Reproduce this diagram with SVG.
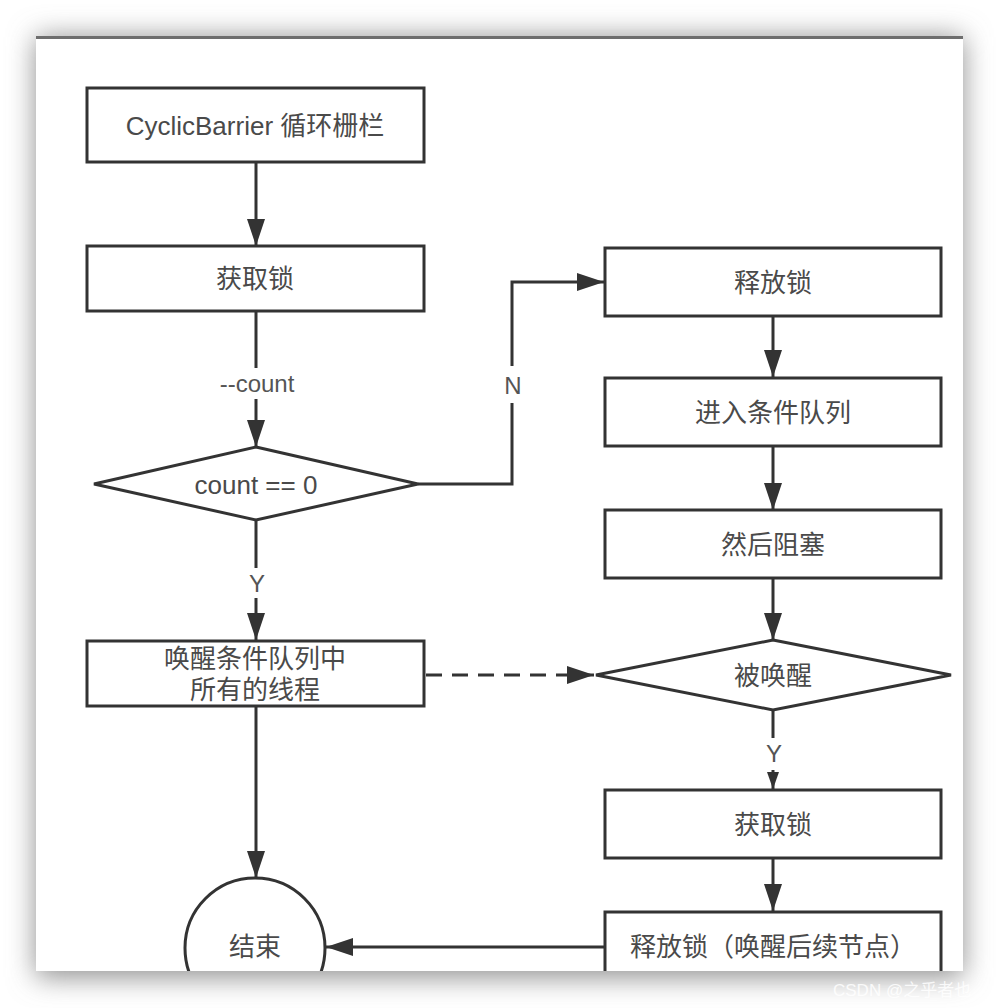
<svg xmlns="http://www.w3.org/2000/svg" width="1000" height="1008" viewBox="0 0 1000 1008">
<defs>
<style>
.box{fill:#fff;stroke:#333;stroke-width:3}
.ln{fill:none;stroke:#333;stroke-width:3}
.dash{fill:none;stroke:#333;stroke-width:3;stroke-dasharray:16 10}
.t{font-family:"Liberation Sans","Noto Sans CJK SC",sans-serif;font-size:26px;fill:#4a4a4a;text-anchor:middle;dominant-baseline:central}
.lbl{font-family:"Liberation Sans","Noto Sans CJK SC",sans-serif;font-size:24px;fill:#555;text-anchor:middle;dominant-baseline:central}
</style>
<marker id="ah" viewBox="0 0 27 18" refX="27" refY="9" markerWidth="27" markerHeight="18" markerUnits="userSpaceOnUse" orient="auto">
<path d="M0,0 L27,9 L0,18 z" fill="#333"/>
</marker>
<marker id="ahs" viewBox="0 0 17 12" refX="17" refY="6" markerWidth="17" markerHeight="12" markerUnits="userSpaceOnUse" orient="auto">
<path d="M0,0 L17,6 L0,12 z" fill="#333"/>
</marker>
<filter id="sh" x="-20%" y="-20%" width="140%" height="140%">
<feGaussianBlur stdDeviation="14"/>
</filter>
<clipPath id="card"><rect x="36" y="37" width="927" height="934"/></clipPath>
</defs>
<rect width="1000" height="1008" fill="#fff"/>
<rect x="36" y="37" width="927" height="940" fill="#8e8e8e" filter="url(#sh)"/>
<rect x="36" y="37" width="927" height="934" fill="#fff"/>
<line x1="36" y1="37.5" x2="963" y2="37.5" stroke="#6e6e6e" stroke-width="3"/>
<g clip-path="url(#card)">
<g id="connectors">
<line class="ln" x1="256" y1="162" x2="256" y2="246" marker-end="url(#ah)"/>
<line class="ln" x1="256" y1="311" x2="256" y2="368"/>
<line class="ln" x1="256" y1="399" x2="256" y2="447" marker-end="url(#ah)"/>
<text class="lbl" x="257" y="383" font-size="27">--count</text>
<polyline class="ln" points="418,484 512,484 512,403"/>
<polyline class="ln" points="512,366 512,282 604,282" marker-end="url(#ah)"/>
<text class="lbl" x="513" y="385">N</text>
<line class="ln" x1="256" y1="520" x2="256" y2="568"/>
<line class="ln" x1="256" y1="598" x2="256" y2="640" marker-end="url(#ah)"/>
<text class="lbl" x="257" y="583">Y</text>
<line class="dash" x1="426" y1="675" x2="594" y2="675" marker-end="url(#ah)"/>
<line class="ln" x1="256" y1="706" x2="256" y2="878" marker-end="url(#ah)"/>
<line class="ln" x1="773" y1="316" x2="773" y2="377" marker-end="url(#ah)"/>
<line class="ln" x1="773" y1="446" x2="773" y2="510" marker-end="url(#ah)"/>
<line class="ln" x1="773" y1="578" x2="773" y2="640" marker-end="url(#ah)"/>
<line class="ln" x1="773" y1="710" x2="773" y2="738"/>
<line class="ln" x1="773" y1="770" x2="773" y2="789" marker-end="url(#ahs)"/>
<text class="lbl" x="774" y="753">Y</text>
<line class="ln" x1="773" y1="858" x2="773" y2="911" marker-end="url(#ah)"/>
<line class="ln" x1="605" y1="947" x2="326" y2="947" marker-end="url(#ah)"/>
</g>
<g id="n1"><rect class="box" x="87" y="88" width="337" height="74"/><text class="t" x="255" y="126">CyclicBarrier 循环栅栏</text></g>
<g id="n2"><rect class="box" x="87" y="246" width="337" height="65"/><text class="t" x="255" y="279">获取锁</text></g>
<g id="n3"><polygon class="box" points="256,447 418,484 256,520 94,484"/><text class="t" x="256" y="485">count == 0</text></g>
<g id="n4"><rect class="box" x="87" y="641" width="337" height="65"/><text class="t" x="255" y="659">唤醒条件队列中</text><text class="t" x="255" y="690">所有的线程</text></g>
<g id="n5"><circle class="box" cx="255" cy="948" r="70"/><text class="t" x="255" y="947">结束</text></g>
<g id="n6"><rect class="box" x="605" y="248" width="336" height="68"/><text class="t" x="773" y="283">释放锁</text></g>
<g id="n7"><rect class="box" x="605" y="378" width="336" height="68"/><text class="t" x="773" y="413">进入条件队列</text></g>
<g id="n8"><rect class="box" x="605" y="510" width="336" height="68"/><text class="t" x="773" y="545">然后阻塞</text></g>
<g id="n9"><polygon class="box" points="773,640 951,675 773,710 596,675"/><text class="t" x="773" y="676">被唤醒</text></g>
<g id="n10"><rect class="box" x="605" y="790" width="336" height="68"/><text class="t" x="773" y="825">获取锁</text></g>
<g id="n11"><rect class="box" x="605" y="912" width="336" height="80"/><text class="t" x="773" y="947">释放锁（唤醒后续节点）</text></g>
</g>
<text x="833" y="996" font-family="Liberation Sans,'Noto Sans CJK SC',sans-serif" font-size="17" fill="#ffffff" fill-opacity="0.85">CSDN @之乎者也</text>
</svg>
